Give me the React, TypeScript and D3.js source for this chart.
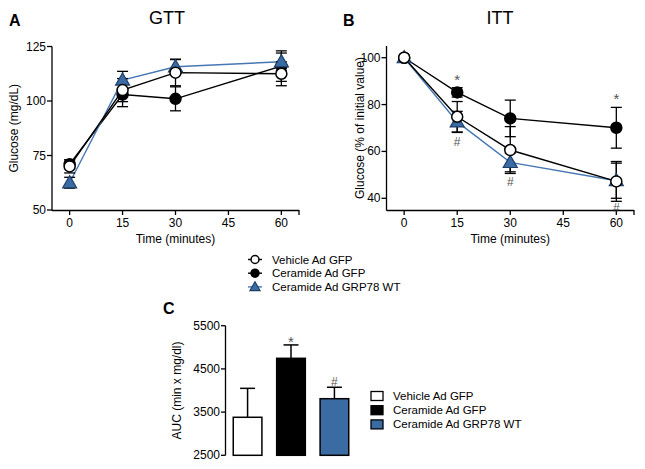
import React from "react";
import * as d3 from "d3";

const TIMES = [0, 15, 30, 60];
const X_TICKS = [0, 15, 30, 45, 60];

const GTT_VEH = [70, 105, 113, 112.5];
const GTT_VEH_ERR = [3, 5.3, 6, 5.5];
const GTT_CER = [71, 103, 101, 116];
const GTT_CER_ERR = [2, 5.6, 5.5, 7];
const GTT_GRP = [62.5, 109.6, 115.7, 118];
const GTT_GRP_ERR = [2.5, 4, 3.5, 4];
const GTT_Y_TICKS = [50, 75, 100, 125];

const ITT_VEH = [100, 74.8, 60.6, 47.2];
const ITT_VEH_ERR = [0, 6.5, 10, 8.5];
const ITT_CER = [100, 85.2, 74.1, 70.1];
const ITT_CER_ERR = [0, 2, 7.8, 8.7];
const ITT_GRP = [100, 72.6, 55.3, 47.5];
const ITT_GRP_ERR = [0, 4.5, 4, 7.5];
const ITT_Y_TICKS = [40, 60, 80, 100];
const ITT_STARS = [15, 60];
const ITT_HASHES = [15, 30, 60];

const GROUPS = ["Vehicle Ad GFP", "Ceramide Ad GFP", "Ceramide Ad GRP78 WT"];
const AUC = [3380, 4745, 3810];
const AUC_ERR = [670, 310, 265];
const AUC_MARKS = ["", "*", "#"];
const AUC_Y_TICKS = [2500, 3500, 4500, 5500];

const FONT = "'Liberation Sans', Arial, Helvetica, sans-serif";
const BLUE_FILL = "#3a6ca3";
const BLUE_LINE = "#4677b2";
const BLUE_STROKE = "#1f3f6b";
const ANN = "#555";

type Series = { vals: number[]; err: number[]; kind: "open" | "filled" | "tri"; line: string };

function Marker({ kind, x, y, s = 1 }: { kind: string; x: number; y: number; s?: number }) {
  if (kind === "tri") {
    const p = d3.symbol().type(d3.symbolTriangle).size(85 * s * s)();
    return <path d={p || ""} transform={`translate(${x},${y + s})`} fill={BLUE_FILL} stroke={BLUE_STROKE} strokeWidth={1.2} />;
  }
  return <circle cx={x} cy={y} r={5.5 * s} fill={kind === "open" ? "#fff" : "#000"} stroke="#000" strokeWidth={1.5} />;
}

function LinePanel(props: {
  x: d3.ScaleLinear<number, number>;
  y: d3.ScaleLinear<number, number>;
  yTicks: number[];
  series: Series[];
  yLabel: string;
  title: string;
  letter: string;
  titleX: number;
  letterX: number;
  yLabelX: number;
}) {
  const { x, y, yTicks, series } = props;
  const [x0, x1] = x.range();
  const [yb, yt] = y.range();
  const line = (vals: number[]) =>
    d3.line<number>().x((_, i) => x(TIMES[i])).y((v) => y(v))(vals) || "";
  return (
    <g fontFamily={FONT}>
      <text x={props.letterX} y={26} fontSize={16} fontWeight="bold">{props.letter}</text>
      <text x={props.titleX} y={24} fontSize={18} textAnchor="middle">{props.title}</text>
      <line x1={x0} x2={x0} y1={yt} y2={yb + 0.5} stroke="#000" strokeWidth={1.3} />
      <line x1={x0} x2={x1} y1={yb + 0.5} y2={yb + 0.5} stroke="#000" strokeWidth={1.3} />
      {yTicks.map((t) => (
        <g key={t}>
          <line x1={x0 - 5} x2={x0} y1={y(t)} y2={y(t)} stroke="#000" strokeWidth={1.3} />
          <text x={x0 - 6} y={y(t) + 4} fontSize={12} textAnchor="end">{t}</text>
        </g>
      ))}
      {X_TICKS.map((t) => (
        <g key={t}>
          <line x1={x(t)} x2={x(t)} y1={yb} y2={yb + 5} stroke="#000" strokeWidth={1.3} />
          <text x={x(t)} y={yb + 17} fontSize={12} textAnchor="middle">{t}</text>
        </g>
      ))}
      <line x1={x1} x2={x1} y1={yb} y2={yb + 5} stroke="#000" strokeWidth={1.3} />
      <text x={(x0 + x1) / 2} y={yb + 33} fontSize={12} textAnchor="middle">Time (minutes)</text>
      <text transform={`translate(${props.yLabelX},${(yt + yb) / 2}) rotate(-90)`} fontSize={12} textAnchor="middle">{props.yLabel}</text>
      {series.map((s, k) => (
        <path key={"l" + k} d={line(s.vals)} fill="none" stroke={s.line} strokeWidth={1.4} />
      ))}
      {series.map((s, k) =>
        s.vals.map((v, i) =>
          s.err[i] > 0 ? (
            <g key={`e${k}-${i}`} stroke="#000" strokeWidth={1.3}>
              <line x1={x(TIMES[i])} x2={x(TIMES[i])} y1={y(v - s.err[i])} y2={y(v + s.err[i])} />
              <line x1={x(TIMES[i]) - 5.5} x2={x(TIMES[i]) + 5.5} y1={y(v + s.err[i])} y2={y(v + s.err[i])} />
              <line x1={x(TIMES[i]) - 5.5} x2={x(TIMES[i]) + 5.5} y1={y(v - s.err[i])} y2={y(v - s.err[i])} />
            </g>
          ) : null
        )
      )}
      {series.map((s, k) =>
        s.vals.map((v, i) => <Marker key={`m${k}-${i}`} kind={s.kind} x={x(TIMES[i])} y={y(v)} />)
      )}
    </g>
  );
}

export default function App() {
  const xA = d3.scaleLinear().domain([-5, 65]).range([52, 299]);
  const yA = d3.scaleLinear().domain([50, 125]).range([210, 46.5]);
  const xB = d3.scaleLinear().domain([-5, 65]).range([386.5, 634]);
  const yB = d3.scaleLinear().domain([35, 105]).range([210, 46]);

  const gttSeries: Series[] = [
    { vals: GTT_CER, err: GTT_CER_ERR, kind: "filled", line: "#000" },
    { vals: GTT_GRP, err: GTT_GRP_ERR, kind: "tri", line: BLUE_LINE },
    { vals: GTT_VEH, err: GTT_VEH_ERR, kind: "open", line: "#000" },
  ];
  const ittSeries: Series[] = [
    { vals: ITT_CER, err: ITT_CER_ERR, kind: "filled", line: "#000" },
    { vals: ITT_GRP, err: ITT_GRP_ERR, kind: "tri", line: BLUE_LINE },
    { vals: ITT_VEH, err: ITT_VEH_ERR, kind: "open", line: "#000" },
  ];

  const xC = d3.scaleBand<string>().domain(GROUPS).range([226, 356]).paddingInner(0.34).paddingOuter(0.167);
  const yC = d3.scaleLinear().domain([2500, 5500]).range([455.3, 325.7]);
  const barFill = ["#fff", "#000", BLUE_FILL];

  const legendKinds = ["open", "filled", "tri"];

  return (
    <svg width={645} height={469} style={{ position: "absolute", left: 0, top: 0, background: "#fff" }}>
      <rect width={645} height={469} fill="#fff" />
      <LinePanel x={xA} y={yA} yTicks={GTT_Y_TICKS} series={gttSeries} yLabel="Glucose (mg/dL)" title="GTT" letter="A" titleX={167} letterX={9} yLabelX={18} />
      <LinePanel x={xB} y={yB} yTicks={ITT_Y_TICKS} series={ittSeries} yLabel="Glucose (% of initial value)" title="ITT" letter="B" titleX={500} letterX={343} yLabelX={364} />
      <g fontFamily={FONT} fill={ANN} textAnchor="middle">
        {ITT_STARS.map((t) => {
          const i = TIMES.indexOf(t);
          return <text key={"s" + t} x={xB(t)} y={yB(ITT_CER[i] + ITT_CER_ERR[i]) - 3} fontSize={15}>*</text>;
        })}
        {ITT_HASHES.map((t) => {
          const i = TIMES.indexOf(t);
          return <text key={"h" + t} x={xB(t)} y={yB(ITT_GRP[i] - ITT_GRP_ERR[i]) + 14} fontSize={12}>#</text>;
        })}
      </g>
      <g fontFamily={FONT}>
        {GROUPS.map((g, i) => {
          const yy = 259.5 + i * 13.7;
          const kind = legendKinds[i];
          return (
            <g key={g}>
              <line x1={248} x2={262} y1={yy} y2={yy} stroke={kind === "tri" ? BLUE_LINE : "#000"} strokeWidth={1.4} />
              <Marker kind={kind} x={255} y={yy} s={0.72} />
              <text x={272} y={yy + 4} fontSize={11.5}>{g}</text>
            </g>
          );
        })}
      </g>
      <g fontFamily={FONT}>
        <text x={163} y={314} fontSize={16} fontWeight="bold">C</text>
        <line x1={225.5} x2={225.5} y1={yC(5500)} y2={yC(2500)} stroke="#000" strokeWidth={1.3} />
        {AUC_Y_TICKS.map((t) => (
          <g key={t}>
            <line x1={221} x2={225.5} y1={yC(t)} y2={yC(t)} stroke="#000" strokeWidth={1.3} />
            <text x={220} y={yC(t) + 4} fontSize={12} textAnchor="end">{t}</text>
          </g>
        ))}
        <text transform={`translate(181,${(yC(5500) + yC(2500)) / 2}) rotate(-90)`} fontSize={12} textAnchor="middle">AUC (min x mg/dl)</text>
        {GROUPS.map((g, i) => {
          const bx = xC(g) || 0;
          const bw = xC.bandwidth();
          const cx = bx + bw / 2;
          return (
            <g key={g}>
              <line x1={cx} x2={cx} y1={yC(AUC[i])} y2={yC(AUC[i] + AUC_ERR[i])} stroke="#000" strokeWidth={1.5} />
              <line x1={cx - 7.5} x2={cx + 7.5} y1={yC(AUC[i] + AUC_ERR[i])} y2={yC(AUC[i] + AUC_ERR[i])} stroke="#000" strokeWidth={1.5} />
              <rect x={bx} y={yC(AUC[i])} width={bw} height={yC(2500) - yC(AUC[i])} fill={barFill[i]} stroke="#000" strokeWidth={1.5} />
              {AUC_MARKS[i] && (
                <text x={cx} y={yC(AUC[i] + AUC_ERR[i]) + (AUC_MARKS[i] === "*" ? 2 : -1)} fontSize={AUC_MARKS[i] === "*" ? 15 : 12} fill={ANN} textAnchor="middle">{AUC_MARKS[i]}</text>
              )}
            </g>
          );
        })}
        {GROUPS.map((g, i) => {
          const yy = 396 + i * 14.2;
          return (
            <g key={"lg" + g}>
              <rect x={371} y={yy - 4.5} width={12} height={9} fill={barFill[i]} stroke="#000" strokeWidth={1.3} />
              <text x={393} y={yy + 4} fontSize={11.5}>{g}</text>
            </g>
          );
        })}
      </g>
    </svg>
  );
}
